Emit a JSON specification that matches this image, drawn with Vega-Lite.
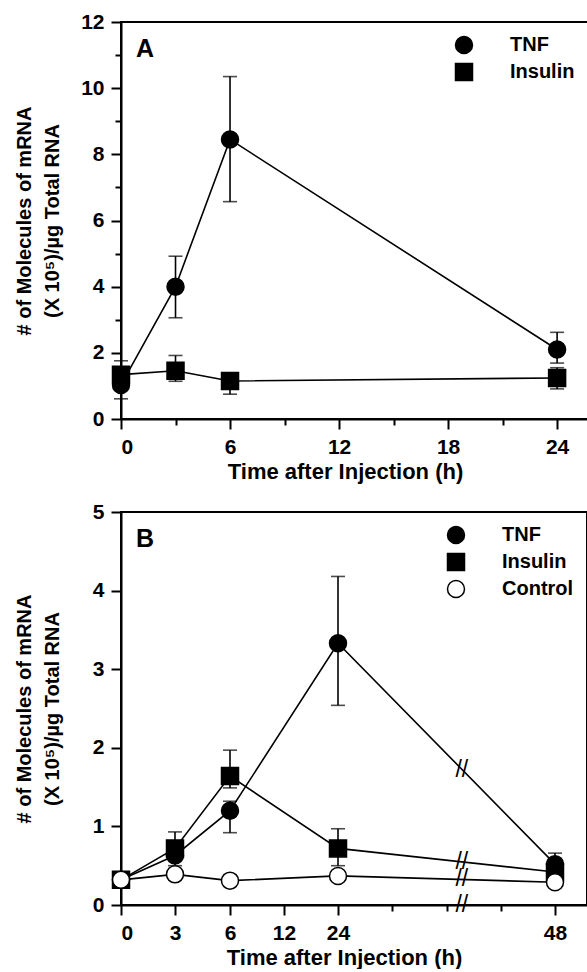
{
  "$schema": "https://vega.github.io/schema/vega-lite/v6.json",
  "background": "white",
  "padding": {"left": 13, "top": 10, "right": 0, "bottom": 0},
  "spacing": 17,
  "resolve": {"scale": {"shape": "independent", "fill": "independent"}, "legend": {"shape": "independent", "fill": "independent"}},
  "config": {
    "font": "Liberation Sans",
    "view": {"stroke": "black", "strokeWidth": 2},
    "axis": {
      "grid": false,
      "domainColor": "black", "domainWidth": 2,
      "tickColor": "black", "tickWidth": 2,
      "labelColor": "black", "labelFont": "Liberation Sans", "labelFontSize": 21, "labelFontWeight": "bold", "labelPadding": 7,
      "titleColor": "black", "titleFont": "Liberation Sans", "titleFontSize": 20, "titleFontWeight": "bold"
    },
    "legend": {"labelFont": "Liberation Sans", "labelFontSize": 20, "labelFontWeight": "bold", "labelColor": "black"},
    "title": {"color": "black", "font": "Liberation Sans", "fontSize": 25, "fontWeight": "bold", "anchor": "start", "frame": "group", "baseline": "top", "offset": -51, "dx": 15}
  },
  "vconcat": [
    {
      "width": 467,
      "height": 397,
      "title": {"text": "A"},
      "data": {"values": [
        {"series": "TNF", "t": 0, "mean": 1.03, "lo": 0.61, "hi": 1.5},
        {"series": "TNF", "t": 3, "mean": 4.0, "lo": 3.06, "hi": 4.92},
        {"series": "TNF", "t": 6, "mean": 8.45, "lo": 6.57, "hi": 10.35},
        {"series": "TNF", "t": 24, "mean": 2.1, "lo": 1.69, "hi": 2.62},
        {"series": "Insulin", "t": 0, "mean": 1.34, "lo": 0.95, "hi": 1.76},
        {"series": "Insulin", "t": 3, "mean": 1.46, "lo": 1.14, "hi": 1.92},
        {"series": "Insulin", "t": 6, "mean": 1.15, "lo": 0.75, "hi": 1.38},
        {"series": "Insulin", "t": 24, "mean": 1.24, "lo": 0.91, "hi": 1.55}
      ]},
      "encoding": {
        "x": {"field": "t", "type": "quantitative",
          "scale": {"domain": [0, 25.7], "nice": false, "zero": false},
          "axis": {"title": "Time after Injection (h)", "titleFontSize": 22, "values": [0, 3, 6, 9, 12, 15, 18, 21, 24],
            "labelExpr": "datum.value % 6 === 0 ? datum.label : ''",
            "tickSize": {"condition": {"test": "datum.value % 6 === 0", "value": 10}, "value": 6},
            "titlePadding": 4, "titleX": 224}}
      },
      "layer": [
        {
          "mark": {"type": "rule", "color": "black", "strokeWidth": 1.6},
          "encoding": {
            "y": {"field": "lo", "type": "quantitative", "scale": {"domain": [0, 12], "nice": false},
              "axis": {"title": ["# of Molecules of mRNA", "(X 10⁵)/µg Total RNA"], "values": [0,1,2,3,4,5,6,7,8,9,10,11,12], "format": "d",
                "labelExpr": "datum.value % 2 === 0 ? datum.label : ''",
                "tickSize": {"condition": {"test": "datum.value % 2 === 0", "value": 10}, "value": 6},
                "minExtent": 42, "maxExtent": 42, "titlePadding": 17, "titleLineHeight": 28}},
            "y2": {"field": "hi"}
          }
        },
        {
          "mark": {"type": "tick", "orient": "horizontal", "color": "black", "thickness": 1.6, "size": 14},
          "encoding": {
            "y": {"field": "lo", "type": "quantitative", "scale": {"domain": [0, 12], "nice": false},
              "axis": {"title": ["# of Molecules of mRNA", "(X 10⁵)/µg Total RNA"], "values": [0,1,2,3,4,5,6,7,8,9,10,11,12], "format": "d",
                "labelExpr": "datum.value % 2 === 0 ? datum.label : ''",
                "tickSize": {"condition": {"test": "datum.value % 2 === 0", "value": 10}, "value": 6},
                "minExtent": 42, "maxExtent": 42, "titlePadding": 17, "titleLineHeight": 28}}
          }
        },
        {
          "mark": {"type": "tick", "orient": "horizontal", "color": "black", "thickness": 1.6, "size": 14},
          "encoding": {
            "y": {"field": "hi", "type": "quantitative", "scale": {"domain": [0, 12], "nice": false},
              "axis": {"title": ["# of Molecules of mRNA", "(X 10⁵)/µg Total RNA"], "values": [0,1,2,3,4,5,6,7,8,9,10,11,12], "format": "d",
                "labelExpr": "datum.value % 2 === 0 ? datum.label : ''",
                "tickSize": {"condition": {"test": "datum.value % 2 === 0", "value": 10}, "value": 6},
                "minExtent": 42, "maxExtent": 42, "titlePadding": 17, "titleLineHeight": 28}}
          }
        },
        {
          "mark": {"type": "line", "color": "black", "strokeWidth": 1.6},
          "encoding": {
            "y": {"field": "mean", "type": "quantitative", "scale": {"domain": [0, 12], "nice": false},
              "axis": {"title": ["# of Molecules of mRNA", "(X 10⁵)/µg Total RNA"], "values": [0,1,2,3,4,5,6,7,8,9,10,11,12], "format": "d",
                "labelExpr": "datum.value % 2 === 0 ? datum.label : ''",
                "tickSize": {"condition": {"test": "datum.value % 2 === 0", "value": 10}, "value": 6},
                "minExtent": 42, "maxExtent": 42, "titlePadding": 17, "titleLineHeight": 28}},
            "detail": {"field": "series", "type": "nominal"}
          }
        },
        {
          "mark": {"type": "point", "filled": true, "opacity": 1, "size": 289, "stroke": "black", "strokeWidth": 1.5},
          "encoding": {
            "y": {"field": "mean", "type": "quantitative", "scale": {"domain": [0, 12], "nice": false},
              "axis": {"title": ["# of Molecules of mRNA", "(X 10⁵)/µg Total RNA"], "values": [0,1,2,3,4,5,6,7,8,9,10,11,12], "format": "d",
                "labelExpr": "datum.value % 2 === 0 ? datum.label : ''",
                "tickSize": {"condition": {"test": "datum.value % 2 === 0", "value": 10}, "value": 6},
                "minExtent": 42, "maxExtent": 42, "titlePadding": 17, "titleLineHeight": 28}},
            "shape": {"field": "series", "type": "nominal",
              "scale": {"domain": ["TNF", "Insulin"], "range": ["circle", "square"]},
              "legend": {"title": null, "orient": "top-right", "offset": 13, "padding": 0,
                "symbolSize": 289, "labelOffset": 36, "rowPadding": 3}},
            "fill": {"field": "series", "type": "nominal",
              "scale": {"domain": ["TNF", "Insulin"], "range": ["black", "black"]}, "legend": null}
          }
        }
      ]
    },
    {
      "width": 466,
      "height": 393,
      "title": {"text": "B"},
      "data": {"values": [
        {"series": "TNF", "t": 0, "mean": 0.32, "lo": 0.28, "hi": 0.36},
        {"series": "TNF", "t": 3, "mean": 0.63, "lo": 0.5, "hi": 0.8},
        {"series": "TNF", "t": 6, "mean": 1.2, "lo": 0.92, "hi": 1.32},
        {"series": "TNF", "t": 24, "mean": 3.33, "lo": 2.54, "hi": 4.18},
        {"series": "TNF", "t": 48, "mean": 0.52, "lo": 0.42, "hi": 0.66},
        {"series": "Insulin", "t": 0, "mean": 0.32, "lo": 0.28, "hi": 0.36},
        {"series": "Insulin", "t": 3, "mean": 0.72, "lo": 0.58, "hi": 0.93},
        {"series": "Insulin", "t": 6, "mean": 1.64, "lo": 1.49, "hi": 1.97},
        {"series": "Insulin", "t": 24, "mean": 0.72, "lo": 0.5, "hi": 0.97},
        {"series": "Insulin", "t": 48, "mean": 0.42, "lo": 0.36, "hi": 0.48},
        {"series": "Control", "t": 0, "mean": 0.32, "lo": null, "hi": null},
        {"series": "Control", "t": 3, "mean": 0.39, "lo": null, "hi": null},
        {"series": "Control", "t": 6, "mean": 0.31, "lo": null, "hi": null},
        {"series": "Control", "t": 24, "mean": 0.37, "lo": null, "hi": null},
        {"series": "Control", "t": 48, "mean": 0.29, "lo": null, "hi": null}
      ]},
      "encoding": {
        "x": {"field": "t", "type": "quantitative",
          "scale": {"domain": [0, 3, 6, 12, 24, 48, 51.5], "range": [0, 54, 109, 163, 217, 434, 466], "nice": false, "zero": false},
          "axis": {"title": "Time after Injection (h)", "titleFontSize": 22, "values": [0, 3, 6, 12, 24, 30, 36, 42, 48],
            "labelExpr": "indexof([0, 3, 6, 12, 24, 48], datum.value) >= 0 ? datum.label : ''",
            "tickSize": {"condition": {"test": "indexof([0, 3, 6, 12, 24, 48], datum.value) >= 0", "value": 10}, "value": 6},
            "titlePadding": 4, "titleX": 223}}
      },
      "layer": [
        {
          "transform": [{"filter": "isValid(datum.lo)"}],
          "mark": {"type": "rule", "color": "black", "strokeWidth": 1.6},
          "encoding": {
            "y": {"field": "lo", "type": "quantitative", "scale": {"domain": [0, 5], "nice": false},
              "axis": {"title": ["# of Molecules of mRNA", "(X 10⁵)/µg Total RNA"], "values": [0,0.5,1,1.5,2,2.5,3,3.5,4,4.5,5], "format": "d",
                "labelExpr": "datum.value % 1 === 0 ? datum.label : ''",
                "tickSize": {"condition": {"test": "datum.value % 1 === 0", "value": 10}, "value": 6},
                "minExtent": 42, "maxExtent": 42, "titlePadding": 17, "titleLineHeight": 28}},
            "y2": {"field": "hi"}
          }
        },
        {
          "transform": [{"filter": "isValid(datum.lo)"}],
          "mark": {"type": "tick", "orient": "horizontal", "color": "black", "thickness": 1.6, "size": 14},
          "encoding": {
            "y": {"field": "lo", "type": "quantitative", "scale": {"domain": [0, 5], "nice": false},
              "axis": {"title": ["# of Molecules of mRNA", "(X 10⁵)/µg Total RNA"], "values": [0,0.5,1,1.5,2,2.5,3,3.5,4,4.5,5], "format": "d",
                "labelExpr": "datum.value % 1 === 0 ? datum.label : ''",
                "tickSize": {"condition": {"test": "datum.value % 1 === 0", "value": 10}, "value": 6},
                "minExtent": 42, "maxExtent": 42, "titlePadding": 17, "titleLineHeight": 28}}
          }
        },
        {
          "transform": [{"filter": "isValid(datum.hi)"}],
          "mark": {"type": "tick", "orient": "horizontal", "color": "black", "thickness": 1.6, "size": 14},
          "encoding": {
            "y": {"field": "hi", "type": "quantitative", "scale": {"domain": [0, 5], "nice": false},
              "axis": {"title": ["# of Molecules of mRNA", "(X 10⁵)/µg Total RNA"], "values": [0,0.5,1,1.5,2,2.5,3,3.5,4,4.5,5], "format": "d",
                "labelExpr": "datum.value % 1 === 0 ? datum.label : ''",
                "tickSize": {"condition": {"test": "datum.value % 1 === 0", "value": 10}, "value": 6},
                "minExtent": 42, "maxExtent": 42, "titlePadding": 17, "titleLineHeight": 28}}
          }
        },
        {
          "mark": {"type": "line", "color": "black", "strokeWidth": 1.6},
          "encoding": {
            "y": {"field": "mean", "type": "quantitative", "scale": {"domain": [0, 5], "nice": false},
              "axis": {"title": ["# of Molecules of mRNA", "(X 10⁵)/µg Total RNA"], "values": [0,0.5,1,1.5,2,2.5,3,3.5,4,4.5,5], "format": "d",
                "labelExpr": "datum.value % 1 === 0 ? datum.label : ''",
                "tickSize": {"condition": {"test": "datum.value % 1 === 0", "value": 10}, "value": 6},
                "minExtent": 42, "maxExtent": 42, "titlePadding": 17, "titleLineHeight": 28}},
            "detail": {"field": "series", "type": "nominal"}
          }
        },
        {
          "data": {"values": [
            {"t": 37.7, "v": 1.72},
            {"t": 37.7, "v": 0.55},
            {"t": 37.7, "v": 0.33},
            {"t": 37.7, "v": 0}
          ]},
          "mark": {"type": "text", "text": "//", "font": "Liberation Sans", "fontSize": 23, "color": "black"},
          "encoding": {
            "y": {"field": "v", "type": "quantitative", "scale": {"domain": [0, 5], "nice": false},
              "axis": {"title": ["# of Molecules of mRNA", "(X 10⁵)/µg Total RNA"], "values": [0,0.5,1,1.5,2,2.5,3,3.5,4,4.5,5], "format": "d",
                "labelExpr": "datum.value % 1 === 0 ? datum.label : ''",
                "tickSize": {"condition": {"test": "datum.value % 1 === 0", "value": 10}, "value": 6},
                "minExtent": 42, "maxExtent": 42, "titlePadding": 17, "titleLineHeight": 28}}
          }
        },
        {
          "mark": {"type": "point", "filled": true, "opacity": 1, "size": 289, "stroke": "black", "strokeWidth": 1.5},
          "encoding": {
            "y": {"field": "mean", "type": "quantitative", "scale": {"domain": [0, 5], "nice": false},
              "axis": {"title": ["# of Molecules of mRNA", "(X 10⁵)/µg Total RNA"], "values": [0,0.5,1,1.5,2,2.5,3,3.5,4,4.5,5], "format": "d",
                "labelExpr": "datum.value % 1 === 0 ? datum.label : ''",
                "tickSize": {"condition": {"test": "datum.value % 1 === 0", "value": 10}, "value": 6},
                "minExtent": 42, "maxExtent": 42, "titlePadding": 17, "titleLineHeight": 28}},
            "shape": {"field": "series", "type": "nominal",
              "scale": {"domain": ["TNF", "Insulin", "Control"], "range": ["circle", "square", "circle"]},
              "legend": {"title": null, "orient": "top-right", "offset": 13, "padding": 0,
                "symbolSize": 289, "labelOffset": 36, "rowPadding": 3}},
            "fill": {"field": "series", "type": "nominal",
              "scale": {"domain": ["TNF", "Insulin", "Control"], "range": ["black", "black", "white"]}, "legend": null}
          }
        }
      ]
    }
  ]
}
